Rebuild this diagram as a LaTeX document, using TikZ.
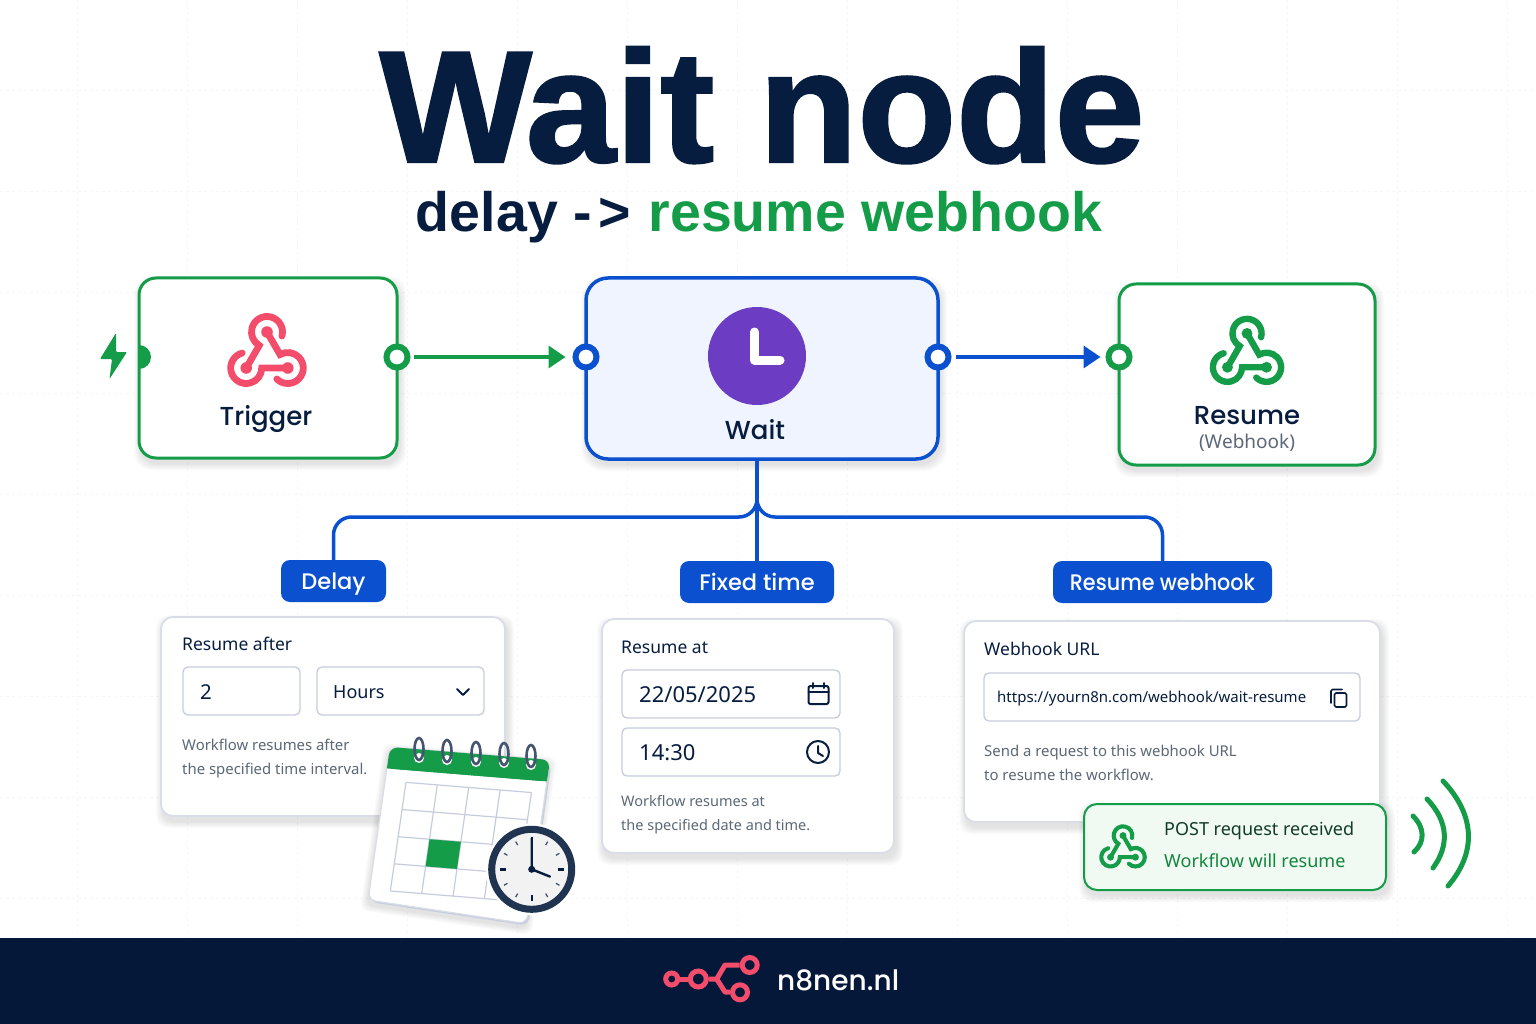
\documentclass[tikz,border=0pt]{standalone}
\usepackage{fontspec}
\setmainfont{Noto Sans}
\newfontfamily\headfont{Liberation Sans}
\newfontfamily\titlefont[FakeStretch=1.015,BoldFeatures={FakeBold=1.5}]{Liberation Sans}
\newfontfamily\medfont{Poppins Medium}
\newfontfamily\narrowmed[FakeStretch=.92]{Poppins Medium}
\usetikzlibrary{arrows.meta,positioning}

\definecolor{ink}{HTML}{071D3F}
\definecolor{footerink}{HTML}{06183A}
\definecolor{flowgreen}{HTML}{159C48}
\definecolor{flowblue}{HTML}{0B50CF}
\definecolor{waitfill}{HTML}{EFF4FE}
\definecolor{cardline}{HTML}{D9DDE7}
\definecolor{fieldline}{HTML}{C5CDDD}
\definecolor{desctext}{HTML}{5C6878}
\definecolor{hookred}{HTML}{F44D6C}
\definecolor{clockpurple}{HTML}{6C3DC3}
\definecolor{postfill}{HTML}{F0FAF3}
\definecolor{posttext}{HTML}{123B28}
\definecolor{faintgrid}{HTML}{F5F6F9}

\tikzset{
  flowbox/.style={rectangle, draw=flowgreen, fill=white, line width=3pt, rounded corners=17pt, anchor=north west, inner sep=0pt, outer sep=0pt},
  port/.style={circle, fill=white, line width=6pt, minimum size=21pt, inner sep=0pt},
  badge/.style={rectangle, fill=flowblue, text=white, rounded corners=9pt, minimum height=42pt, inner sep=0pt, outer sep=0pt, text height=19pt, text depth=3pt, font=\medfont\fontsize{22.5}{25}\selectfont},
  card/.style={rectangle, draw=cardline, fill=white, line width=1.8pt, rounded corners=12pt, anchor=north west, inner sep=0pt, outer sep=0pt},
  field/.style={rectangle, draw=fieldline, fill=white, line width=1.3pt, rounded corners=5pt, anchor=north west, inner sep=0pt, outer sep=0pt, minimum height=48pt},
  heading/.style={anchor=base west, inner sep=0pt, text=ink, font=\fontsize{17.5}{20}\selectfont},
  entry/.style={anchor=base west, inner sep=0pt, text=ink, font=\fontsize{20.5}{22}\selectfont},
  desc/.style={anchor=base west, inner sep=0pt, text=desctext, font=\fontsize{14.9}{18}\selectfont},
  boxlabel/.style={anchor=base, inner sep=0pt, text=ink, font=\medfont\fontsize{26}{28}\selectfont},
  logoring/.style={circle, draw=hookred, line width=5pt, inner sep=0pt},
  tool/.style={draw=ink, line width=2pt, line cap=round, line join=round},
  pics/webhook/.style 2 args={code={
    \begin{scope}[y=1pt, scale=#2]
      \foreach \a in {90,210,330} {
        \fill[#1] (\a:24) circle (5.8);
        \draw[#1, line width=#2*6.8pt, line cap=round] (\a:24) ++(\a-105:15.5) arc[start angle=\a-105, end angle=\a+150, radius=15.5] -- (\a+120:24);
      }
    \end{scope}
  }}
}

% blurred shadow below a box: left, top, right, bottom, corner
\newcommand{\softshadow}[5]{
  \foreach \s in {1,...,7} {
    \fill[black, opacity=.016, rounded corners=#5pt] (#1-\s+2,#2-\s+5) rectangle (#3+\s+2,#4+\s+5);
  }
}

\begin{document}
\begin{tikzpicture}[x=1pt, y=-1pt]
  \useasboundingbox (0,0) rectangle (1536,1024);
  \fill[white] (0,0) rectangle (1536,1024);

  % faint grid behind everything
  \foreach \x in {77,187,...,1530} {
    \draw[faintgrid, dashed] (\x,0) -- (\x,937);
  }
  \foreach \y in {90,191,292,393,494,595,696,797,898} {
    \draw[faintgrid, dashed] (0,\y) -- (1536,\y);
  }

  % title
  \node [anchor=base, inner sep=0pt, text=ink, font=\titlefont\bfseries\fontsize{159}{160}\selectfont] (title) at (762,162) {Wait node};
  \node [anchor=base, inner sep=0pt, text=ink, font=\headfont\bfseries\fontsize{55.5}{60}\selectfont] (subtitle) at (759,232) {delay -\kern7pt>\kern2pt{} \textcolor{flowgreen}{resume webhook}};

  % flow boxes
  \softshadow{139}{278}{397}{458}{17}
  \softshadow{586}{278}{938}{459}{22}
  \softshadow{1119}{284}{1375}{465}{17}
  \node [flowbox, minimum width=258pt, minimum height=180pt] (trigger) at (139,278) {};
  \node [flowbox, draw=flowblue, fill=waitfill, line width=3.5pt, rounded corners=22pt, minimum width=352pt, minimum height=181pt] (wait) at (586,278) {};
  \node [flowbox, minimum width=256pt, minimum height=181pt] (resume) at (1119,284) {};

  % trigger
  \fill[flowgreen] (139,345) arc[start angle=90, end angle=-90, radius=12pt] -- cycle;
  \fill[flowgreen, rounded corners=1pt] (116,333) -- (100,359) -- (112,359) -- (109.5,379) -- (127,352) -- (116,352) -- cycle;
  \pic at (267,356) {webhook={hookred}{1}};
  \node [boxlabel] (triggerlabel) at (266,425) {Trigger};

  % wait
  \fill[clockpurple] (757,356) circle (49pt);
  \draw[white, line width=9pt, line cap=round, line join=round] (754.5,332) -- (754.5,360) -- (780,360);
  \node [boxlabel] (waitlabel) at (755,439) {Wait};

  % resume
  \pic at (1247,356) {webhook={flowgreen}{.94}};
  \node [boxlabel] (resumelabel) at (1247,424) {Resume};
  \node [anchor=base, inner sep=0pt, text=desctext, font=\fontsize{19}{21}\selectfont] (resumesub) at (1247,448) {(Webhook)};

  % ports and arrows
  \node [port, draw=flowgreen] (trigout) at (397,357) {};
  \node [port, draw=flowblue] (waitin) at (586,357) {};
  \node [port, draw=flowblue] (waitout) at (938,357) {};
  \node [port, draw=flowgreen] (resumein) at (1119,357) {};
  \draw[flowgreen, line width=3.5pt, -{Triangle[length=17pt,width=22pt]}, shorten <=3pt, shorten >=7pt] (trigout) -- (waitin);
  \draw[flowblue, line width=3.5pt, -{Triangle[length=17pt,width=22pt]}, shorten <=4pt, shorten >=5pt] (waitout) -- (resumein);

  % badges
  \node [badge, minimum width=105pt] (delay) at (333.5,581) {Delay};
  \node [badge, minimum width=154pt] (fixed) at (757,582) {Fixed time};
  \node [badge, minimum width=219pt, font=\narrowmed\fontsize{22.5}{25}\selectfont] (hook) at (1162.5,582) {Resume webhook};

  % tree below wait
  \coordinate (waittap) at (757,459);
  \coordinate (branch) at (757,517);
  \draw[flowblue, line width=3.5pt] (waittap) -- (fixed.north);
  \draw[flowblue, line width=3.5pt, rounded corners=18pt] (waittap) -- (branch) -- (delay.north |- branch) -- (delay.north);
  \draw[flowblue, line width=3.5pt, rounded corners=18pt] (waittap) -- (branch) -- (hook.north |- branch) -- (hook.north);

  % delay card
  \softshadow{161}{617}{505}{816}{12}
  \node [card, minimum width=344pt, minimum height=199pt] (delaycard) at (161,617) {};
  \node [heading] (delayhead) at (182,650) {Resume after};
  \node [field, minimum width=117pt] (amount) at (183,667) {};
  \node [entry] (amounttext) at (200,699) {2};
  \node [field, minimum width=167pt] (unit) at (317,667) {};
  \node [entry, font=\fontsize{18}{20}\selectfont] (unittext) at (333,698) {Hours};
  \draw[tool] (457,689) -- (463,695) -- (469,689);
  \node [desc] (delaydesc) at (182,750) {Workflow resumes after};
  \node [desc] (delaydescb) at (182,774) {the specified time interval.};

  % fixed time card
  \softshadow{602}{619}{894}{853}{12}
  \node [card, minimum width=292pt, minimum height=234pt] (fixedcard) at (602,619) {};
  \node [heading] (fixedhead) at (621,653) {Resume at};
  \node [field, minimum width=218pt] (datefield) at (622,670) {};
  \node [entry, font=\fontsize{22}{24}\selectfont] (datetext) at (639,702) {22/05/2025};
  \node [field, minimum width=218pt] (timefield) at (622,728) {};
  \node [entry, font=\fontsize{22}{24}\selectfont] (timetext) at (639,760) {14:30};
  \draw[tool, rounded corners=2pt] (808.5,686) rectangle (828.5,704);
  \draw[tool] (808.5,691.5) -- (828.5,691.5) (813,683) -- (813,688) (824,683) -- (824,688);
  \draw[tool] (818,752) circle (11pt) (818,746) -- (818,753) -- (823,756);
  \node [desc, font=\fontsize{14.5}{18}\selectfont] (fixeddesc) at (621,806) {Workflow resumes at};
  \node [desc, font=\fontsize{14.5}{18}\selectfont] (fixeddescb) at (621,830) {the specified date and time.};

  % webhook card
  \softshadow{964}{621}{1380}{822}{12}
  \node [card, minimum width=416pt, minimum height=201pt] (hookcard) at (964,621) {};
  \node [heading] (hookhead) at (984,655) {Webhook URL};
  \node [field, minimum width=376pt] (urlfield) at (984,673) {};
  \node [entry, font=\fontsize{15}{17}\selectfont] (urltext) at (997,702) {https://yourn8n.com/webhook/wait-resume};
  \draw[tool, line width=1.6pt, rounded corners=1.5pt] (1331,703) -- (1331,689.5) -- (1342,689.5);
  \draw[tool, line width=1.6pt, rounded corners=1.5pt] (1334.5,693) rectangle (1346.5,707);
  \node [desc] (hookdesc) at (984,756) {Send a request to this webhook URL};
  \node [desc] (hookdescb) at (984,780) {to resume the workflow.};

  % post request
  \softshadow{1084}{804}{1386}{890}{12}
  \node [flowbox, fill=postfill, line width=2pt, rounded corners=13pt, minimum width=302pt, minimum height=86pt] (post) at (1084,804) {};
  \pic at (1123,850) {webhook={flowgreen}{.6}};
  \node [heading, text=posttext, font=\fontsize{18}{20}\selectfont] (posttop) at (1164,835) {POST request received};
  \node [heading, text=flowgreen!85!black, font=\fontsize{18}{20}\selectfont] (postbot) at (1164,867) {Workflow will resume};
  \draw[flowgreen, line width=5pt, line cap=round] (1413,816) .. controls (1425,828) and (1425,842) .. (1414,852);
  \draw[flowgreen, line width=5pt, line cap=round] (1427,799) .. controls (1449,822) and (1449,846) .. (1433,868);
  \draw[flowgreen, line width=5pt, line cap=round] (1443,781) .. controls (1475,815) and (1477,852) .. (1448,886);

  % calendar
  \begin{scope}[shift={(390,747)}, x={(160pt,-13pt)}, y={(-22pt,-153pt)}]
    \foreach \s in {1,...,7} {
      \fill[black, opacity=.016, rounded corners=8pt] ({-.006*\s},{.02-.006*\s}) -- ({1+.006*\s},{.02-.006*\s}) -- ({1+.006*\s},{1.1+.006*\s}) -- ({-.006*\s},{1.03+.006*\s}) -- cycle;
    }
    \fill[fieldline, rounded corners=8pt] (.012,.02) -- (1.012,.02) -- (1.012,1.082) -- (.012,1.012) -- cycle;
    \draw[cardline, fill=white, line width=1.2pt, rounded corners=8pt] (0,0) -- (1,0) -- (1,1.07) -- (0,1) -- cycle;
    \fill[flowgreen, rounded corners=8pt] (0,.14) -- (0,0) -- (1,0) -- (1,.14) -- cycle;
    \fill[flowgreen] (0,.08) -- (1,.08) -- (1,.14) -- (0,.14) -- cycle;
    \foreach \i in {0,...,4} {
      \draw[fieldline, line width=1.2pt] ({.13+.196*\i},.22) -- ({.13+.196*\i},.93);
      \draw[fieldline, line width=1.2pt] (.13,{.22+.1775*\i}) -- (.915,{.22+.1775*\i});
    }
    \fill[flowgreen] (.326,.575) -- (.522,.575) -- (.522,.7525) -- (.326,.7525) -- cycle;
  \end{scope}
  \foreach \x/\y in {419/749,447/751,476/753,504/754,531/756} {
    \fill[white] (\x,\y+9) circle (5pt);
    \draw[ink!75, line width=2.6pt] (\x,\y) ellipse (4.5pt and 11pt);
  }
  \fill[white] (531.7,869.3) circle (46pt);
  \draw[ink!90, fill=black!5, line width=7pt] (531.7,869.3) circle (40pt);
  \foreach \a in {0,90,180,270} {
    \draw[ink, line width=2.4pt] (531.7,869.3) ++(\a:26pt) -- ++(\a:6pt);
  }
  \foreach \a in {30,60,120,150,210,240,300,330} {
    \draw[ink!80, line width=1.2pt] (531.7,869.3) ++(\a:28pt) -- ++(\a:4pt);
  }
  \draw[ink, line width=2.4pt, line cap=round] (531.7,838) -- (531.7,869.3) -- (550,876.6);
  \fill[ink] (531.7,869.3) circle (3.5pt);

  % footer
  \fill[footerink] (0,938) rectangle (1536,1024);
  \node [logoring, minimum size=12pt] (lga) at (671.7,979) {};
  \node [logoring, minimum size=16pt] (lgb) at (698.3,979) {};
  \node [logoring, minimum size=15pt] (lgc) at (749.7,965) {};
  \node [logoring, minimum size=15pt] (lgd) at (740,992.3) {};
  \coordinate (lgfork) at (716.7,979);
  \draw[hookred, line width=5pt] (lga) -- (lgb);
  \draw[hookred, line width=5pt, line join=round] (lgb) -- (lgfork) -- (725,965) -- (lgc);
  \draw[hookred, line width=5pt, line join=round] (lgfork) -- (725,992) -- (lgd);
  \node [anchor=base west, inner sep=0pt, text=white, font=\medfont\fontsize{28}{30}\selectfont] (brand) at (777,990) {n8nen.nl};
\end{tikzpicture}
\end{document}
